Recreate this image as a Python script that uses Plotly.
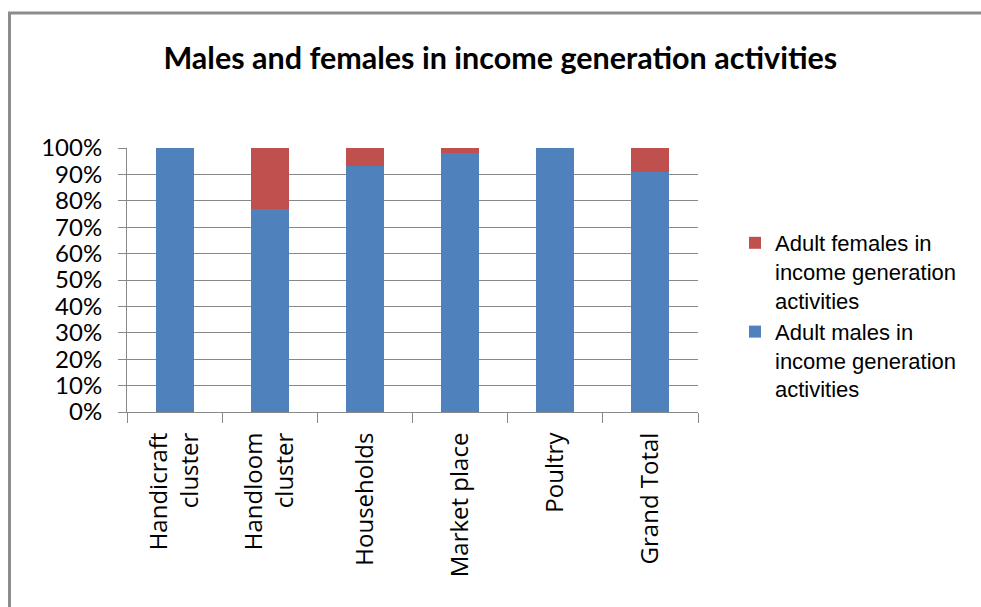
import plotly.graph_objects as go

categories = ["Handicraft<br>cluster", "Handloom<br>cluster", "Households",
              "Market place", "Poultry", "Grand Total"]
males = [1.00, 0.77, 0.93, 0.98, 1.00, 0.91]
females = [0.00, 0.23, 0.07, 0.02, 0.00, 0.09]

males_name = "Adult males in<br>income generation<br>activities"
females_name = "Adult females in<br>income generation<br>activities"

BLUE = "#4F81BD"
RED = "#C0504D"
GRID = "#888888"

fig = go.Figure()
fig.add_trace(go.Bar(x=categories, y=males, name=males_name,
                     marker=dict(color=BLUE, line=dict(width=0))))
fig.add_trace(go.Bar(x=categories, y=females, name=females_name,
                     marker=dict(color=RED, line=dict(width=0))))

L, R, T, B = 127, 981 - 698, 148, 607 - 412
W = 981 - L - R
H = 607 - T - B

def px(x):
    return (x - L) / W

def py(y):
    return (607 - B - y) / H

fig.update_layout(
    width=981, height=607,
    margin=dict(l=L, r=R, t=T, b=B, autoexpand=False),
    paper_bgcolor="white", plot_bgcolor="white",
    barmode="stack", bargap=0.6,
    title=dict(text="<b>Males and females in income generation activities</b>",
               x=0.51, xanchor="center", y=1 - 58 / 607, yanchor="middle",
               font=dict(family="Lato", size=30.5, color="black")),
    xaxis=dict(showline=True, linecolor=GRID, linewidth=1,
               ticks="outside", ticklen=10, tickcolor=GRID, tickson="boundaries",
               tickangle=-90, tickfont=dict(family="Open Sans", size=24, color="black"),
               showgrid=False, ticklabelstandoff=10),
    yaxis=dict(range=[0, 1], dtick=0.1, tickformat=".0%",
               showline=True, linecolor=GRID, linewidth=1,
               ticks="outside", ticklen=8, tickcolor=GRID,
               showgrid=True, gridcolor=GRID, gridwidth=1,
               tickfont=dict(family="Lato", size=24, color="black"),
               ticklabelstandoff=11, zeroline=False),
    legend=dict(x=px(735), xanchor="left", y=py(222), yanchor="top",
                traceorder="reversed", tracegroupgap=0, valign="top",
                font=dict(family="Liberation Sans", size=22, color="black"),
                itemsizing="constant"),
    shapes=[
        dict(type="line", xref="paper", yref="paper",
             x0=px(9.5), x1=px(9.5), y0=py(12), y1=py(620),
             line=dict(color="#8c8c8c", width=3)),
        dict(type="line", xref="paper", yref="paper",
             x0=px(8), x1=px(1000), y0=py(13), y1=py(13),
             line=dict(color="#8c8c8c", width=3)),
    ],
)

fig.write_html("out.html")
